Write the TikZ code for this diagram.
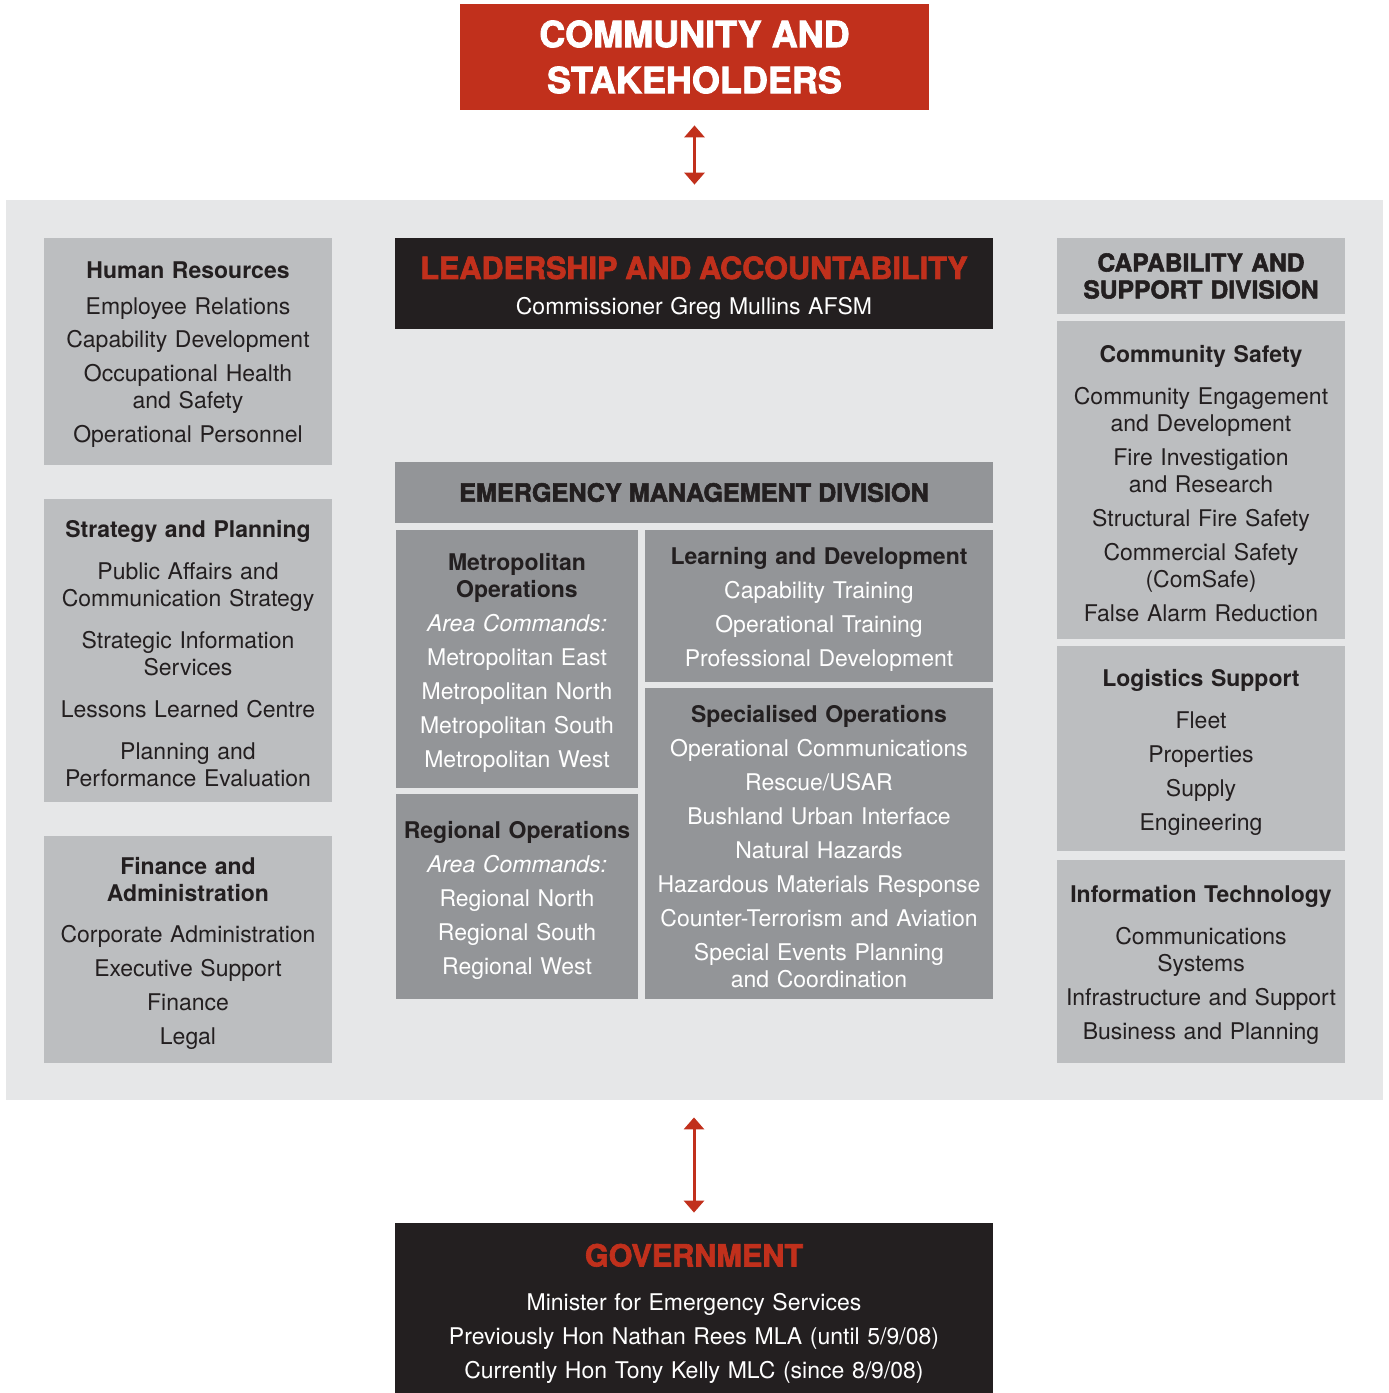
\documentclass[tikz,border=0pt]{standalone}
\usepackage{fontspec}
\setmainfont{TeX Gyre Heros}
\newfontfamily\heavyfont{TeX Gyre Heros}[BoldFeatures={FakeBold=2.2}]
\usepackage{xparse}
\usetikzlibrary{arrows.meta}

\definecolor{firered}{HTML}{C1301C}
\definecolor{panelgray}{HTML}{E6E7E8}
\definecolor{lightunit}{HTML}{BCBEC0}
\definecolor{darkunit}{HTML}{939598}
\definecolor{ink}{HTML}{231F20}

\tikzstyle{base} = [inner sep=0pt, align=center, font=\fontsize{11.5}{13.5}\selectfont]
\tikzstyle{side} = [base, fill=lightunit, text=ink, minimum width=144pt, text width=143pt]
\tikzstyle{mid} = [base, fill=darkunit, text=white]
\tikzstyle{dark} = [base, fill=ink, text=white, minimum width=299pt, text width=297pt]
\tikzstyle{link} = [firered, line width=1.5pt, {Triangle[width=10pt,length=6pt]}-{Triangle[width=10pt,length=6pt]}]
\tikzset{itemgap/.code={\def\itemgap{#1}}, headgap/.code={\def\headgap{#1}}}
\def\itemgap{3.5pt}
\def\headgap{3.5pt}

% unit box: name, style, centre, heading, items split on ;
\NewDocumentCommand\Unit{m m m m >{\SplitList{;}}m}{%
    \node (#1) [#2] at (#3) {\def\nextgap{\headgap}\rule{0pt}{12pt}{\color{ink}\bfseries #4}%
    \ProcessList{#5}{\insertline}};
}
\newcommand\insertline[1]{\\[\nextgap]#1\def\nextgap{\itemgap}}

\begin{document}
\begin{tikzpicture}[x=0.5pt, y=-0.5pt]
\useasboundingbox (0,0) rectangle (1388,1393);

\node (community) [base, fill=firered, text=white, minimum width=234.5pt, minimum height=53pt,
    font=\heavyfont\bfseries\fontsize{18}{23}\selectfont] at (694.5,57) {COMMUNITY AND\\STAKEHOLDERS};

\node (panel) [fill=panelgray, inner sep=0pt, minimum width=688.5pt, minimum height=450pt] at (694.5,650) {};

% left column
\Unit{HR}{side, minimum height=113.5pt, headgap=4pt}{188,351.5}{Human Resources}{Employee
    Relations;Capability Development;Occupational Health\\and Safety;Operational Personnel}
\Unit{STRATEGY}{side, minimum height=151.5pt, headgap=7.5pt, itemgap=7.5pt}{188,650.5}{Strategy
    and Planning}{Public Affairs and\\Communication Strategy;Strategic Information\\Services;Lessons
    Learned Centre;Planning and\\Performance Evaluation}
\Unit{FINANCE}{side, minimum height=113.5pt, headgap=7pt}{188,949.5}{Finance
    and\\Administration}{Corporate Administration;Executive Support;Finance;Legal}

% centre column
\node (LEADERSHIP) [dark, minimum height=45.5pt] at (694,283.5) {\rule{0pt}{16pt}{\heavyfont\bfseries\color{firered}%
    \fontsize{15.3}{16}\selectfont LEADERSHIP AND ACCOUNTABILITY}\\[4.5pt]Commissioner Greg Mullins AFSM};
\node (EMD) [base, fill=darkunit, text=ink, minimum width=299pt, minimum height=30.5pt,
    font=\heavyfont\bfseries\fontsize{12.6}{14}\selectfont] at (694,492.5) {EMERGENCY MANAGEMENT DIVISION};

\Unit{METRO}{mid, minimum width=121pt, text width=121pt, minimum height=129pt}{517,659}{Metropolitan\\Operations}{%
    \textit{Area Commands:};Metropolitan East;Metropolitan North;Metropolitan South;Metropolitan West}
\Unit{REGIONAL}{mid, minimum width=121pt, text width=121pt, minimum height=102.5pt}{517,896.5}{Regional
    Operations}{\textit{Area Commands:};Regional North;Regional South;Regional West}
\Unit{LEARNING}{mid, minimum width=174pt, text width=173pt, minimum height=76pt}{819,606}{Learning
    and Development}{Capability Training;Operational Training;Professional Development}
\Unit{SPECIAL}{mid, minimum width=174pt, text width=173pt, minimum height=155.5pt}{819,843.5}{Specialised
    Operations}{Operational Communications;Rescue/USAR;Bushland Urban Interface;Natural
    Hazards;Hazardous Materials Response;Counter-Terrorism and Aviation;Special Events
    Planning\\and Coordination}

% right column
\node (CAPABILITY) [side, minimum height=38pt, font=\heavyfont\bfseries\fontsize{12.3}{13.5}\selectfont]
    at (1201,276) {CAPABILITY AND\\SUPPORT DIVISION};
\Unit{SAFETY}{side, minimum height=159pt, headgap=7.5pt}{1201,480}{Community Safety}{Community
    Engagement\\and Development;Fire Investigation\\and Research;Structural Fire Safety;Commercial
    Safety\\(ComSafe);False Alarm Reduction}
\Unit{LOGISTICS}{side, minimum height=102.5pt, headgap=7.5pt}{1201,748.5}{Logistics
    Support}{Fleet;Properties;Supply;Engineering}
\Unit{IT}{side, minimum height=101.5pt, headgap=7.5pt}{1201,961.5}{Information
    Technology}{Communications\\Systems;Infrastructure and Support;Business and Planning}

\node (GOVERNMENT) [dark, minimum height=85pt] at (694,1308) {\rule{0pt}{17pt}{\heavyfont\bfseries\color{firered}%
    \fontsize{15.3}{16}\selectfont GOVERNMENT}\\[8.5pt]Minister for Emergency
    Services\\[3.5pt]Previously Hon Nathan Rees MLA (until 5/9/08)\\[3.5pt]Currently Hon Tony
    Kelly MLC (since 8/9/08)};

% Arrows
\draw[link, shorten <=7.5pt, shorten >=7.5pt] (community) -- (community |- panel.north);
\draw[link, shorten <=8.5pt, shorten >=5pt] (GOVERNMENT.north |- panel.south) -- (GOVERNMENT);

\end{tikzpicture}
\end{document}
